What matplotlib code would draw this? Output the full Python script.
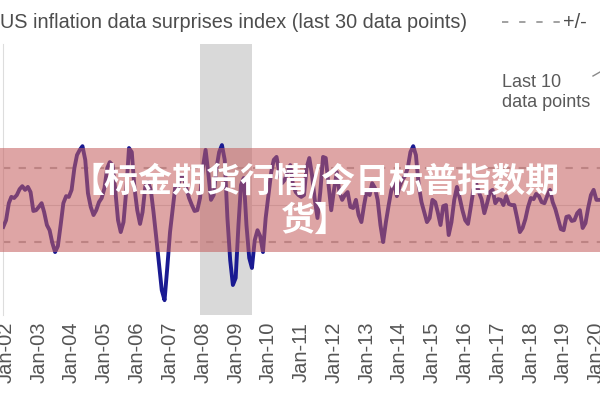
import numpy as np
import pandas as pd
import matplotlib
matplotlib.use("Agg")
from matplotlib import pyplot as plt
from matplotlib.lines import Line2D
from matplotlib.patches import Rectangle
import matplotlib.dates as mdates

plt.rcParams["font.family"] = ["Liberation Sans", "DejaVu Sans"]

# monthly surprise index (std units), Dec-2001 .. Jan-2020
surprise = [
    -0.59,
    -0.41, 0.05, 0.22, 0.19, 0.27, 0.43, 0.51, 0.41, 0.49, 0.35, -0.16, -0.14,
    -0.05, 0.05, -0.19, -0.54, -0.68, -1.03, -1.27, -1.11, -0.54, 0.05, 0.24, 0.22,
    0.41, 1.00, 1.35, 1.49, 1.59, 1.22, 0.32, -0.05, -0.27, -0.14, 0.08, 0.19,
    0.46, 1.00, 1.16, 1.08, 0.41, -0.41, -0.73, -0.46, 0.41, 1.54, 1.43, 0.46,
    -0.14, -0.51, -0.19, 0.51, 0.62, 0.41, -0.19, -0.89, -1.62, -2.30, -2.57, -1.70,
    -0.73, -0.08, 0.51, 0.49, 0.78, 0.76, 0.46, 0.19, 0.00, -0.16, -0.14, 0.19,
    1.00, 1.49, 0.89, 0.14, 0.27, 1.00, 1.43, 1.62, 1.22, -0.35, -1.49, -2.16,
    -1.97, -0.54, 0.54, 0.73, -0.54, -1.43, -1.70, -0.95, -0.68, -0.84, -1.27, -0.35,
    0.27, 0.89, 1.22, 1.30, 0.89, 0.59, 0.68, 0.89, 1.08, 0.54, 0.35, 0.27,
    0.22, 0.27, 1.00, 1.27, 0.81, 0.14, -0.35, 0.35, 1.30, 1.27, 0.54, -0.14,
    0.41, 0.89, 0.35, 0.14, 0.27, 0.35, -0.05, -0.08, 0.14, -0.27, -0.46, 0.00,
    0.41, 0.27, 0.59, 0.46, 0.14, -0.54, -1.00, -0.46, 0.00, 0.41, 0.59, 0.24,
    0.51, 0.68, 0.78, 1.00, 1.43, 1.59, 1.35, 0.54, 0.08, -0.19, -0.46, -0.35,
    0.14, 0.08, -0.19, -0.54, -0.03, 0.00, -0.81, -0.46, 0.14, 0.49, 0.19, -0.14,
    -0.41, -0.51, -0.08, 0.41, 0.59, 0.35, 0.16, -0.22, 0.05, 0.35, 0.41, 0.05,
    0.16, 0.14, 0.00, 0.24, 0.03, 0.00, 0.00, -0.35, -0.73, -0.62, -0.38, -0.05,
    0.19, 0.16, 0.30, 0.24, 0.08, 0.05, 0.24, 0.41, 0.08, -0.11, -0.38, -0.65,
    -0.68, -0.32, -0.30, -0.43, -0.41, -0.22, -0.14, -0.62, -0.49, -0.08, 0.27, 0.41,
    0.14, 0.14,
]
dates = pd.date_range("2001-12-01", periods=len(surprise), freq="MS")

recession = (pd.Timestamp("2007-12-01"), pd.Timestamp("2009-06-30"))
band_std = 1.0

title = "US inflation data surprises index (last 30 data points)"
legend_label = "+/-"
note = "Last 10\ndata points"
watermark = "【标金期货行情/今日标普指数期\n货】"

fig = plt.figure(figsize=(6, 4), dpi=100)
ax = fig.add_axes([0.005, 0.2125, 0.995, 0.6775])

ax.axvspan(*recession, color="#d9d9d9", lw=0, zorder=0)
ax.axhline(0, color="#d8d8d8", lw=0.8, zorder=1)
for s in (band_std, -band_std):
    ax.axhline(s, color="#b3b3b3", lw=1.5, dashes=(3.5, 4), zorder=1)
ax.plot(dates, surprise, color="#1a1a92", lw=2.8, zorder=3)

ax.set_xlim(pd.Timestamp("2001-11-28"), pd.Timestamp("2020-02-10"))
ax.set_ylim(-2.97, 4.35)
ax.xaxis.set_major_locator(mdates.YearLocator())
ax.xaxis.set_major_formatter(mdates.DateFormatter("%b-%y"))
ax.tick_params(axis="x", length=0, pad=5, labelsize=14.5, labelcolor="#555555",
               labelrotation=90)
ax.set_yticks([])
for side in ("top", "right", "bottom"):
    ax.spines[side].set_visible(False)
ax.spines["left"].set_color("#dddddd")

fig.text(0.0, 1 - 28 / 400, title, fontsize=14.3, color="#4d4d4d", va="baseline")
fig.add_artist(Line2D([502 / 600, 560 / 600], [1 - 22 / 400] * 2, color="#9a9a9a",
                      lw=1.3, dashes=(3.5, 6), transform=fig.transFigure))
fig.text(563 / 600, 1 - 28 / 400, legend_label, fontsize=14.3, color="#4d4d4d",
         va="baseline")
fig.text(502 / 600, 1 - 107 / 400, note, fontsize=13, color="#5a5a5a",
         va="baseline", linespacing=1.25)
fig.add_artist(Line2D([593 / 600, 600 / 600], [1 - 76 / 400, 1 - 72 / 400],
                      color="#8a8a8a", lw=1, transform=fig.transFigure))

# watermark banner
fig.add_artist(Rectangle((0, 1 - 252 / 400), 1, 104 / 400, transform=fig.transFigure,
                         facecolor="#c55f5f", alpha=0.56, lw=0, zorder=10))
fig.text(0.525, 0.5, watermark, fontsize=24.5, color="white", fontweight="bold",
         family=["Noto Sans CJK SC", "DejaVu Sans"], ha="center", va="center",
         multialignment="center", linespacing=1.15, zorder=11)

fig.savefig("out.png", dpi=100)
